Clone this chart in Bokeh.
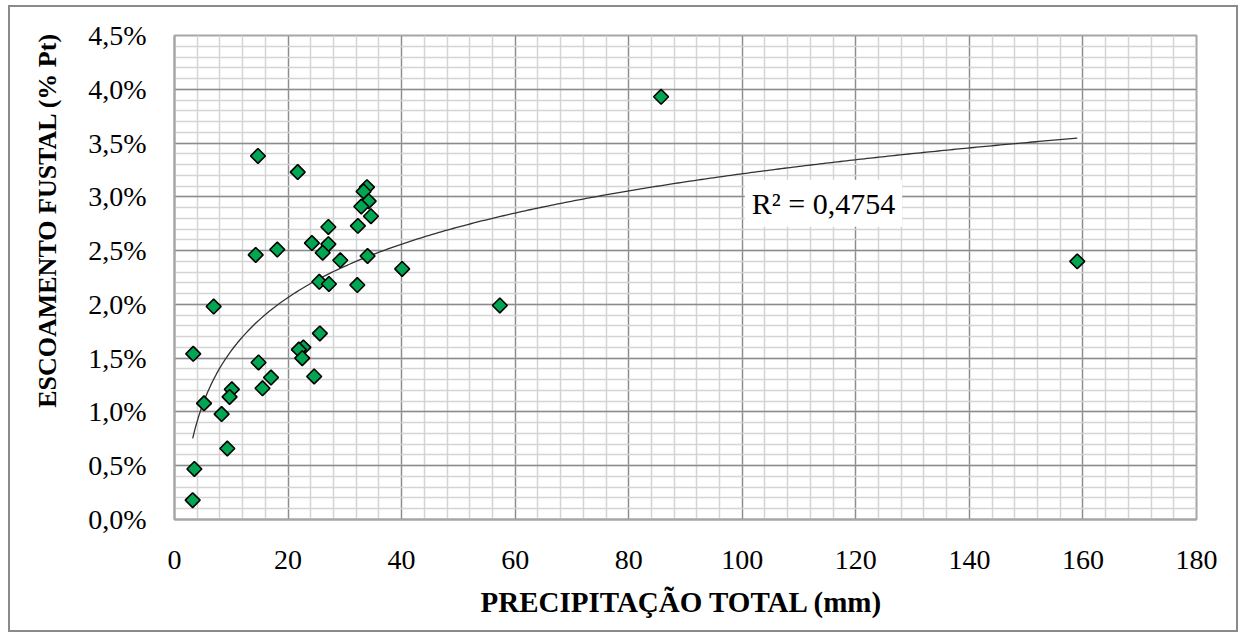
import numpy as np
from bokeh.plotting import figure
from bokeh.models import Range1d, FixedTicker, Label, Title, ColumnDataSource
from bokeh.embed import file_html
from bokeh.resources import INLINE

# ---- data ----
precip = [14.7, 21.7, 33.9, 33.3, 34.2, 32.9, 34.6, 32.3, 27.1, 24.2,
          27.1, 26.1, 14.3, 18.1, 29.2, 34.0, 40.1, 25.5, 27.2, 32.2,
          6.9, 3.3, 25.6, 22.7, 21.9, 22.5, 14.8, 24.6, 17.0, 15.5,
          10.1, 9.7, 5.2, 8.3, 9.3, 3.5, 3.2, 85.7, 159.0, 57.3]
escoamento = [3.38, 3.23, 3.09, 3.05, 2.96, 2.91, 2.82, 2.73, 2.72, 2.57,
              2.56, 2.48, 2.46, 2.51, 2.41, 2.45, 2.33, 2.21, 2.19, 2.18,
              1.98, 1.54, 1.73, 1.60, 1.58, 1.50, 1.46, 1.33, 1.32, 1.22,
              1.21, 1.14, 1.08, 0.98, 0.66, 0.47, 0.18, 3.93, 2.40, 1.99]

x_ticks = [0, 20, 40, 60, 80, 100, 120, 140, 160, 180]
x_minor = list(range(0, 181, 4))
y_ticks = [0.0, 0.5, 1.0, 1.5, 2.0, 2.5, 3.0, 3.5, 4.0, 4.5]
y_tick_labels = ["0,0%", "0,5%", "1,0%", "1,5%", "2,0%", "2,5%", "3,0%", "3,5%", "4,0%", "4,5%"]
y_minor = [round(i * 0.1, 1) for i in range(46)]
r2_text = "R² = 0,4754"
x_title = "PRECIPITAÇÃO TOTAL  (mm)"
y_title = "ESCOAMENTO FUSTAL (% Pt)"

# ---- logarithmic trend line fitted to the data ----
xa = np.array(precip)
ya = np.array(escoamento)
a, b = np.polyfit(np.log(xa), ya, 1)
xt = np.linspace(xa.min(), xa.max(), 300)
yt = a * np.log(xt) + b

SERIF = "Liberation Serif"

p = figure(width=1230, height=627, output_backend="svg", toolbar_location=None,
           x_range=Range1d(0, 180), y_range=Range1d(0, 4.5),
           min_border_left=164, min_border_right=44, min_border_top=28, min_border_bottom=115,
           margin=(5, 0, 0, 8),
           styles={"border": "2px solid #8a8a8a"})
p.background_fill_color = "white"
p.border_fill_color = "white"
p.outline_line_color = "#a6a6a6"
p.outline_line_width = 2

p.xaxis.ticker = FixedTicker(ticks=x_ticks, minor_ticks=x_minor)
p.yaxis.ticker = FixedTicker(ticks=y_ticks, minor_ticks=y_minor)
p.yaxis.major_label_overrides = {t: l for t, l in zip(y_ticks, y_tick_labels)}

for ax in (p.xaxis, p.yaxis):
    ax.axis_line_color = "#a6a6a6"
    ax.axis_line_width = 2
    ax.major_tick_line_color = None
    ax.minor_tick_line_color = None
    ax.major_tick_out = 0
    ax.major_tick_in = 0
    ax.minor_tick_out = 0
    ax.minor_tick_in = 0
    ax.major_label_text_font = SERIF
    ax.major_label_text_font_size = "28px"
    ax.major_label_text_color = "black"
p.xaxis.major_label_standoff = 31
p.yaxis.major_label_standoff = 28

p.xaxis.axis_label = x_title
p.xaxis.axis_label_text_font = SERIF
p.xaxis.axis_label_text_font_size = "29px"
p.xaxis.axis_label_text_font_style = "bold"
p.xaxis.axis_label_text_color = "black"
p.xaxis.axis_label_standoff = 14

p.add_layout(Title(text=y_title, align="right", vertical_align="top", offset=-3, standoff=44,
                   text_font=SERIF, text_font_size="26px", text_font_style="bold",
                   text_color="black"), "left")

for g in (p.xgrid, p.ygrid):
    g.grid_line_color = "#8c8c8c"
    g.grid_line_width = 1.3
    g.minor_grid_line_color = "#d4d4d4"
    g.minor_grid_line_width = 1.5

# trend line
p.line(xt, yt, line_color="#333333", line_width=1.3)

# points
src = ColumnDataSource(dict(x=precip, y=escoamento))
p.scatter("x", "y", source=src, marker="square", angle=np.pi / 4, size=10.5,
          fill_color="#00A651", line_color="black", line_width=1.6)

# R² label
p.add_layout(Label(x=114.3, y=2.94, text=r2_text, text_font=SERIF, text_font_size="30px",
                   text_align="center", text_baseline="middle", text_color="black",
                   background_fill_color="white", padding=7))

open("out.html", "w").write(file_html(p, INLINE))
